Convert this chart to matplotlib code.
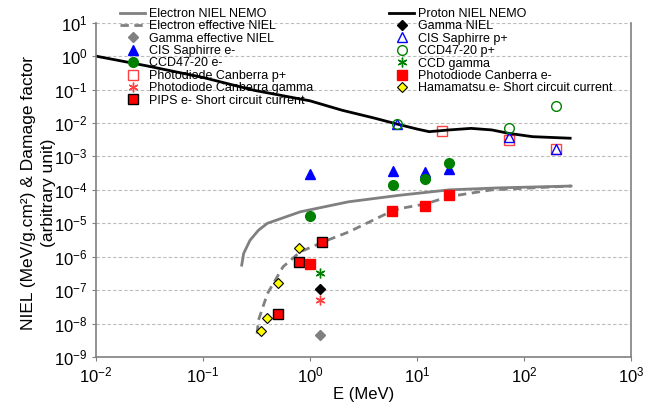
import numpy as np
import matplotlib.pyplot as plt

plt.rcParams['font.family'] = ['Liberation Sans', 'DejaVu Sans']

# curves (E in MeV)
proton_E = [0.01, 0.03, 0.1, 0.3, 1.0, 2.0, 4.0, 6.5, 10, 13, 20, 32, 50, 72, 120, 270]
proton_V = [1.0, 0.51, 0.23, 0.095, 0.046, 0.024, 0.014, 0.0093, 0.0066, 0.0055,
            0.0062, 0.0069, 0.0062, 0.0049, 0.0039, 0.0035]

elec_E = [0.23, 0.24, 0.275, 0.33, 0.40, 0.81, 2.3, 6.9, 20, 60, 275]
elec_V = [5.6e-7, 1.26e-6, 3.1e-6, 6.2e-6, 1.0e-5, 2.2e-5, 4.4e-5, 6.9e-5, 1.0e-4, 1.15e-4, 1.3e-4]

eff_E = [0.32, 0.33, 0.40, 0.56, 0.81, 1.45, 2.3, 5.2, 6.9, 12, 20, 50, 275]
eff_V = [5e-9, 1.26e-8, 7.9e-8, 5.0e-7, 1.4e-6, 3.1e-6, 5.5e-6, 1.95e-5, 2.75e-5, 3.8e-5,
         6.3e-5, 1.0e-4, 1.3e-4]

# measured points
gamma_eff_E, gamma_eff_V = [1.25], [4.7e-9]
cis_e_E, cis_e_V = [1.0, 6.0, 12, 20], [3.0e-4, 3.7e-4, 3.5e-4, 4.1e-4]
ccd_e_E, ccd_e_V = [1.0, 6.0, 12, 20], [1.7e-5, 1.35e-4, 2.1e-4, 6.5e-4]
pd_p_E, pd_p_V = [17, 72, 200], [5.7e-3, 3.0e-3, 1.7e-3]
pd_g_E, pd_g_V = [1.25], [4.9e-8]
pips_E, pips_V = [0.5, 0.79, 1.3], [1.9e-8, 6.8e-7, 2.8e-6]
gamma_E, gamma_V = [1.25], [1.05e-7]
cis_p_E, cis_p_V = [6.5, 72, 200], [9.3e-3, 3.7e-3, 1.7e-3]
ccd_p_E, ccd_p_V = [6.5, 72, 200], [9.6e-3, 6.9e-3, 0.032]
ccd_g_E, ccd_g_V = [1.25], [3.3e-7]
pd_e_E, pd_e_V = [1.0, 5.9, 12, 20], [6.0e-7, 2.4e-5, 3.4e-5, 7.2e-5]
ham_E, ham_V = [0.35, 0.40, 0.50, 0.79], [5.8e-9, 1.5e-8, 1.6e-7, 1.8e-6]

fig = plt.figure(figsize=(6.46, 4.05), dpi=100)
ax = fig.add_axes([96/646, 1-357/405, 535/646, 334.3/405])

grey = '#808080'
star = (6, 2, 0)

# left legend column
h = []
h.append(ax.plot(elec_E, elec_V, color=grey, lw=2, label='Electron NIEL NEMO')[0])
h.append(ax.plot(eff_E, eff_V, color=grey, lw=2, ls=(0, (3, 2)), label='Electron effective NIEL')[0])
h.append(ax.plot(gamma_eff_E, gamma_eff_V, ls='none', marker='D', ms=5, color=grey,
                 label='Gamma effective NIEL')[0])
h.append(ax.plot(cis_e_E, cis_e_V, ls='none', marker='^', ms=7.5, color='#0000ff',
                 label='CIS Saphirre e-')[0])
h.append(ax.plot(ccd_e_E, ccd_e_V, ls='none', marker='o', ms=7, color='#008000',
                 label='CCD47-20 e-')[0])
h.append(ax.plot(pd_p_E, pd_p_V, ls='none', marker='s', ms=6.5, mfc='none', mec='#ff4040',
                 mew=1, label='Photodiode Canberra p+')[0])
h.append(ax.plot(pd_g_E, pd_g_V, ls='none', marker=star, ms=7, color='#ff4040', mew=1,
                 label='Photodiode Canberra gamma')[0])
h.append(ax.plot(pips_E, pips_V, ls='none', marker='s', ms=7, mfc='#ff0000', mec='black',
                 mew=1, label='PIPS e- Short circuit current')[0])

# right legend column
h2 = []
h2.append(ax.plot(proton_E, proton_V, color='black', lw=2, label='Proton NIEL NEMO')[0])
h2.append(ax.plot(gamma_E, gamma_V, ls='none', marker='D', ms=5, color='black',
                  label='Gamma NIEL')[0])
h2.append(ax.plot(cis_p_E, cis_p_V, ls='none', marker='^', ms=7, mfc='none', mec='#0000ff',
                  mew=1, label='CIS Saphirre p+')[0])
h2.append(ax.plot(ccd_p_E, ccd_p_V, ls='none', marker='o', ms=7, mfc='none', mec='#008000',
                  mew=1, label='CCD47-20 p+')[0])
h2.append(ax.plot(ccd_g_E, ccd_g_V, ls='none', marker=star, ms=7, color='#008000', mew=1,
                  label='CCD gamma')[0])
h2.append(ax.plot(pd_e_E, pd_e_V, ls='none', marker='s', ms=7, color='#ff0000',
                  label='Photodiode Canberra e-')[0])
h2.append(ax.plot(ham_E, ham_V, ls='none', marker='D', ms=5, mfc='#ffff00', mec='black',
                  mew=0.8, label='Hamamatsu e- Short circuit current')[0])

ax.set_xscale('log')
ax.set_yscale('log')
ax.set_xlim(1e-2, 1e3)
ax.set_ylim(1e-9, 1e1)
ax.set_yticks([10.0**k for k in range(-9, 2)])
ax.set_xticks([10.0**k for k in range(-2, 4)])
ax.minorticks_off()
ax.yaxis.grid(True, color='#bcbcbc', ls=(0, (3, 2)), lw=0.8)
ax.set_axisbelow(True)

for s in ['left', 'bottom', 'right']:
    ax.spines[s].set_color(grey)
    ax.spines[s].set_linewidth(1.2)
ax.spines['top'].set_visible(False)
ax.tick_params(axis='both', which='major', labelsize=12, length=3, color=grey, pad=3)

ax.set_xlabel('E (MeV)', fontsize=12, labelpad=1)
ax.set_ylabel('NIEL (MeV/g.cm²) & Damage factor\n(arbitrary unit)', fontsize=12.5,
              linespacing=1.4, multialignment='center')
ax.yaxis.set_label_coords(-0.075, 0.49)

leg_kw = dict(frameon=False, fontsize=9, handlelength=2.0, handletextpad=0.3,
              labelspacing=0.03, borderpad=0, borderaxespad=0, loc='upper left',
              bbox_transform=fig.transFigure)
leg1 = ax.legend(handles=h, bbox_to_anchor=(120/646, 1-8/405), **leg_kw)
ax.add_artist(leg1)
ax.legend(handles=h2, bbox_to_anchor=(389/646, 1-8/405), **leg_kw)

fig.savefig('out.png', dpi=100)
